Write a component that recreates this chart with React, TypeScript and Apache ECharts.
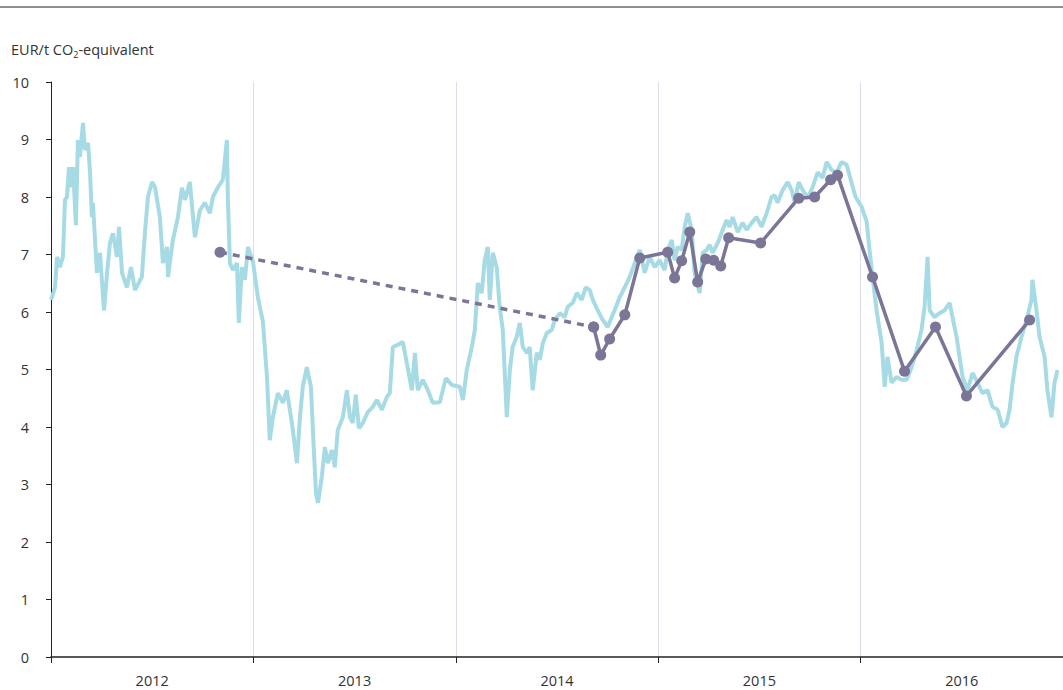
import React, { useEffect, useRef } from "react";
import * as echarts from "echarts";

const yearLabels = ["2012", "2013", "2014", "2015", "2016"];

// Spot price (decimal year, EUR/t)
const spotYears = [
  2012.0, 2012.005, 2012.02, 2012.03, 2012.044, 2012.059, 2012.069, 2012.079, 2012.089, 2012.099,
  2012.109, 2012.123, 2012.133, 2012.143, 2012.158, 2012.168, 2012.183, 2012.193, 2012.202, 2012.207,
  2012.227, 2012.242, 2012.262, 2012.277, 2012.291, 2012.306, 2012.326, 2012.336, 2012.351, 2012.375,
  2012.395, 2012.415, 2012.449, 2012.464, 2012.479, 2012.499, 2012.514, 2012.538, 2012.553, 2012.573,
  2012.578, 2012.602, 2012.627, 2012.647, 2012.662, 2012.686, 2012.711, 2012.736, 2012.76, 2012.785,
  2012.8, 2012.825, 2012.849, 2012.869, 2012.874, 2012.884, 2012.899, 2012.919, 2012.928, 2012.943,
  2012.958, 2012.973, 2012.998, 2013.022, 2013.047, 2013.067, 2013.081,
  2013.096, 2013.121, 2013.146, 2013.165, 2013.18, 2013.195, 2013.215, 2013.23, 2013.244, 2013.264,
  2013.284, 2013.294, 2013.309, 2013.319, 2013.338, 2013.353, 2013.368, 2013.388, 2013.402, 2013.417,
  2013.442, 2013.462, 2013.477, 2013.491, 2013.506, 2013.521, 2013.541, 2013.565, 2013.59, 2013.61,
  2013.635, 2013.659, 2013.674, 2013.689, 2013.714, 2013.738, 2013.758, 2013.783, 2013.798, 2013.812,
  2013.837, 2013.862, 2013.886, 2013.921, 2013.951, 2013.98, 2014.02,
  2014.035, 2014.054, 2014.079, 2014.094, 2014.109, 2014.128, 2014.143, 2014.158, 2014.168, 2014.183,
  2014.202, 2014.217, 2014.232, 2014.252, 2014.267, 2014.281, 2014.301, 2014.316, 2014.331, 2014.351,
  2014.365, 2014.38, 2014.4, 2014.415, 2014.43, 2014.449, 2014.474, 2014.489, 2014.514, 2014.538,
  2014.553, 2014.578, 2014.598, 2014.622, 2014.642, 2014.662, 2014.677, 2014.701, 2014.726, 2014.751,
  2014.77, 2014.785, 2014.81, 2014.835, 2014.859, 2014.884, 2014.909,
  2014.933, 2014.958, 2014.983, 2015.007, 2015.032, 2015.047, 2015.067, 2015.081, 2015.096, 2015.116,
  2015.131, 2015.146, 2015.165, 2015.18, 2015.205, 2015.22, 2015.24, 2015.254, 2015.269, 2015.294,
  2015.319, 2015.338, 2015.353, 2015.368, 2015.393, 2015.417, 2015.437, 2015.462, 2015.486, 2015.511,
  2015.536, 2015.56, 2015.575, 2015.59, 2015.615, 2015.64, 2015.659, 2015.674, 2015.694, 2015.714,
  2015.738, 2015.763, 2015.788, 2015.812, 2015.832, 2015.857, 2015.881, 2015.906, 2015.931, 2015.956,
  2015.975, 2016.005, 2016.03,
  2016.044, 2016.059, 2016.079, 2016.104, 2016.119, 2016.133, 2016.153, 2016.178, 2016.202, 2016.227,
  2016.252, 2016.277, 2016.301, 2016.316, 2016.331, 2016.341, 2016.365, 2016.39, 2016.415, 2016.44,
  2016.454, 2016.474, 2016.489, 2016.504, 2016.528, 2016.553, 2016.578, 2016.602, 2016.627, 2016.652,
  2016.677, 2016.701, 2016.721, 2016.736, 2016.751, 2016.77, 2016.795, 2016.82, 2016.844, 2016.849,
  2016.869, 2016.884, 2016.909, 2016.923, 2016.943, 2016.958, 2016.973,
];
const spotPrices = [
  6.21, 6.26, 6.43, 6.96, 6.78, 6.96, 7.95, 8.0, 8.52, 8.17,
  8.52, 7.51, 8.99, 8.7, 9.29, 8.82, 8.94, 8.42, 7.65, 7.9,
  6.68, 7.03, 6.03, 6.68, 7.2, 7.37, 6.96, 7.48, 6.68, 6.43,
  6.78, 6.38, 6.61, 7.37, 8.0, 8.26, 8.17, 7.65, 6.85, 7.13,
  6.61, 7.25, 7.65, 8.16, 7.95, 8.26, 7.3, 7.77, 7.9, 7.72,
  8.0, 8.17, 8.3, 8.99, 7.95, 6.85, 6.73, 6.85, 5.81, 6.78,
  6.56, 7.13, 6.87, 6.26, 5.83, 4.87, 3.77,
  4.17, 4.59, 4.42, 4.64, 4.3, 3.95, 3.37, 4.17, 4.7, 5.04,
  4.7, 3.95, 2.85, 2.68, 3.13, 3.65, 3.37, 3.6, 3.3, 3.95,
  4.17, 4.64, 4.17, 4.07, 4.56, 3.98, 4.07, 4.26, 4.35, 4.47,
  4.3, 4.52, 4.59, 5.39, 5.43, 5.48, 5.11, 4.64, 5.29, 4.64,
  4.82, 4.64, 4.42, 4.43, 4.85, 4.73, 4.7,
  4.47, 4.99, 5.39, 5.69, 6.5, 6.33, 6.9, 7.13, 6.21, 7.03,
  6.78, 6.09, 5.69, 4.17, 4.99, 5.39, 5.57, 5.81, 5.39, 5.29,
  5.39, 4.64, 5.29, 5.17, 5.46, 5.63, 5.69, 5.86, 5.98, 5.91,
  6.09, 6.16, 6.33, 6.21, 6.43, 6.38, 6.21, 6.03, 5.86, 5.74,
  5.91, 6.03, 6.26, 6.43, 6.61, 6.85, 7.08,
  6.68, 6.96, 6.78, 6.9, 6.73, 7.08, 7.25, 6.9, 7.13, 7.08,
  7.48, 7.72, 7.43, 6.68, 6.33, 7.03, 7.08, 7.17, 7.03, 7.2,
  7.43, 7.6, 7.48, 7.65, 7.39, 7.55, 7.43, 7.55, 7.65, 7.48,
  7.72, 8.0, 8.03, 7.9, 8.12, 8.26, 8.12, 7.91, 8.26, 8.12,
  7.98, 8.17, 8.43, 8.33, 8.61, 8.47, 8.42, 8.61, 8.56, 8.24,
  8.0, 7.83, 7.57,
  7.08, 6.61, 6.03, 5.46, 4.7, 5.22, 4.77, 4.87, 4.82, 4.82,
  5.04, 5.34, 5.69, 6.09, 6.96, 6.03, 5.91, 5.98, 6.03, 6.16,
  5.91, 5.57, 5.22, 4.87, 4.64, 4.94, 4.77, 4.59, 4.64, 4.35,
  4.3, 4.0, 4.07, 4.3, 4.77, 5.22, 5.57, 5.86, 6.21, 6.56,
  6.03, 5.57, 5.22, 4.64, 4.17, 4.77, 4.99,
];

// Estimates (purple): dashed link then solid line
const linkYears = [2012.835, 2014.681];
const linkValues = [7.04, 5.74];
const estYears = [
  2014.681, 2014.716, 2014.76, 2014.835, 2014.909, 2015.047, 2015.081, 2015.116, 2015.156, 2015.195,
  2015.235, 2015.274, 2015.309, 2015.348, 2015.506, 2015.694, 2015.773, 2015.852, 2015.886, 2016.059,
  2016.217, 2016.37, 2016.523, 2016.835,
];
const estValues = [
  5.74, 5.25, 5.53, 5.95, 6.94, 7.04, 6.59, 6.89, 7.39, 6.52,
  6.92, 6.9, 6.8, 7.29, 7.2, 7.98, 8.0, 8.3, 8.38, 6.61,
  4.97, 5.74, 4.54, 5.86,
];

const zip = (xs: number[], ys: number[]) => xs.map((x, i) => [x, ys[i]]);

export default function App() {
  const ref = useRef<HTMLDivElement>(null);
  useEffect(() => {
    if (!ref.current) return;
    const chart = echarts.init(ref.current, undefined, { renderer: "svg" });
    const font = "'Open Sans', 'Noto Sans', sans-serif";
    const purple = "#7b7597";
    chart.setOption({
      animation: false,
      textStyle: { fontFamily: font },
      grid: { left: 51, right: 0, top: 82, bottom: 33, containLabel: false },
      xAxis: [
        {
          type: "value",
          min: 2012,
          max: 2017,
          interval: 1,
          axisLine: { show: true, lineStyle: { color: "#222", width: 1.5 } },
          axisTick: { show: true, length: 6, lineStyle: { color: "#222", width: 1 } },
          axisLabel: { show: false },
          splitLine: { show: true, lineStyle: { color: "#dcdcec", width: 1 } },
        },
        {
          type: "category",
          data: yearLabels,
          position: "bottom",
          boundaryGap: true,
          axisLine: { show: false },
          axisTick: { show: false },
          splitLine: { show: false },
          axisLabel: { color: "#333", fontSize: 14.5, margin: 16, fontFamily: font },
        },
      ],
      yAxis: {
        type: "value",
        min: 0,
        max: 10,
        interval: 1,
        axisLine: { show: true, lineStyle: { color: "#222", width: 1 } },
        axisTick: { show: true, length: 5, lineStyle: { color: "#222" } },
        axisLabel: { color: "#333", fontSize: 14.5, margin: 22, fontFamily: font },
        splitLine: { show: false },
      },
      graphic: [
        {
          type: "line",
          shape: { x1: 0, y1: 7, x2: 1063, y2: 7 },
          style: { stroke: "#6a6a6a", lineWidth: 1.5 },
        },
        {
          type: "text",
          left: 11,
          top: 42,
          style: {
            text: "EUR/t CO{sub|2}-equivalent",
            fill: "#333",
            fontSize: 14.5,
            fontFamily: font,
            rich: {
              sub: { fontSize: 9, fill: "#333", padding: [10, 0, 0, 0], fontFamily: font },
            },
          },
        },
      ],
      series: [
        {
          name: "Spot",
          type: "line",
          xAxisIndex: 0,
          data: zip(spotYears, spotPrices),
          showSymbol: false,
          lineStyle: { color: "#a6dbe5", width: 4 },
          z: 1,
        },
        {
          name: "Link",
          type: "line",
          xAxisIndex: 0,
          data: zip(linkYears, linkValues),
          symbol: "circle",
          symbolSize: 11,
          itemStyle: { color: purple },
          lineStyle: { color: purple, width: 3.5, type: [7, 6] },
          z: 2,
        },
        {
          name: "Estimate",
          type: "line",
          xAxisIndex: 0,
          data: zip(estYears, estValues),
          symbol: "circle",
          symbolSize: 11,
          itemStyle: { color: purple },
          lineStyle: { color: purple, width: 3.5 },
          z: 3,
        },
      ],
    });
    return () => chart.dispose();
  }, []);
  return (
    <div
      ref={ref}
      style={{ position: "absolute", left: 0, top: 0, width: 1063, height: 690, background: "#fff" }}
    />
  );
}
